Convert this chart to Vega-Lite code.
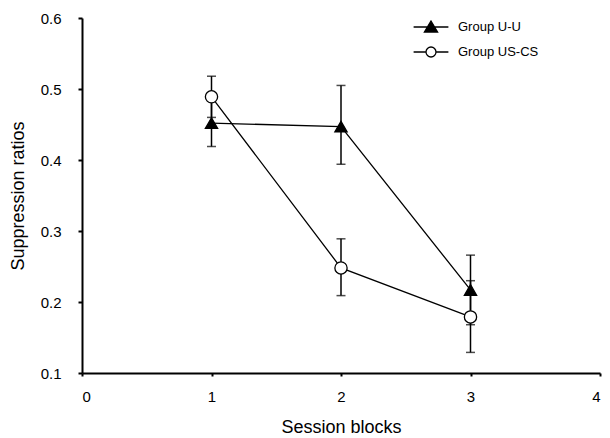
{
  "$schema": "https://vega.github.io/schema/vega-lite/v6.json",
  "width": 518,
  "height": 355,
  "autosize": {"type": "none"},
  "padding": {"left": 82, "top": 18, "right": 10, "bottom": 65},
  "background": "white",
  "config": {
    "view": {"stroke": null},
    "font": "Liberation Sans",
    "axis": {
      "grid": false,
      "domainColor": "black",
      "domainWidth": 2,
      "tickColor": "black",
      "tickWidth": 2,
      "tickSize": 4,
      "labelColor": "black",
      "labelFont": "Liberation Sans",
      "labelFontSize": 15,
      "titleFont": "Liberation Sans",
      "titleFontWeight": "normal",
      "titleColor": "black"
    }
  },
  "resolve": {"scale": {"shape": "independent", "fill": "independent"}, "legend": {"shape": "independent", "fill": "independent"}},
  "data": {
    "values": [
      {"block": 1, "group": "Group U-U", "mean": 0.452, "lo": 0.419, "hi": 0.485},
      {"block": 2, "group": "Group U-U", "mean": 0.447, "lo": 0.394, "hi": 0.505},
      {"block": 3, "group": "Group U-U", "mean": 0.217, "lo": 0.168, "hi": 0.266},
      {"block": 1, "group": "Group US-CS", "mean": 0.489, "lo": 0.460, "hi": 0.518},
      {"block": 2, "group": "Group US-CS", "mean": 0.248, "lo": 0.209, "hi": 0.289},
      {"block": 3, "group": "Group US-CS", "mean": 0.179, "lo": 0.129, "hi": 0.230}
    ]
  },
  "encoding": {
    "x": {
      "field": "block",
      "type": "quantitative",
      "scale": {"domain": [0, 4], "nice": false, "zero": false},
      "axis": {"values": [0, 1, 2, 3, 4], "format": "d", "title": "Session blocks", "labelPadding": 13, "titlePadding": 14, "titleFontSize": 18, "tickSize": 3}
    }
  },
  "layer": [
    {
      "mark": {"type": "point", "filled": true, "opacity": 0, "size": 144},
      "encoding": {
        "y": {"field": "mean", "type": "quantitative"},
        "fill": {
          "field": "group",
          "type": "nominal",
          "scale": {"domain": ["Group U-U", "Group US-CS"], "range": ["black", "white"]},
          "legend": {
            "title": null,
            "orient": "none",
            "legendX": 342,
            "legendY": 2,
            "padding": 0,
            "rowPadding": 9,
            "symbolSize": 144,
            "symbolOpacity": 1,
            "symbolStrokeColor": "black",
            "symbolStrokeWidth": 1.3,
            "labelOffset": 20,
            "labelFont": "Liberation Sans",
            "labelFontSize": 13,
            "labelColor": "black",
            "encode": {
              "symbols": {
                "update": {
                  "stroke": {"value": "black"},
                  "strokeWidth": {"value": 1.3},
                  "opacity": {"value": 1}
                }
              }
            }
          }
        },
        "shape": {
          "field": "group",
          "type": "nominal",
          "scale": {"domain": ["Group U-U", "Group US-CS"], "range": ["M-2.9,0H2.9M0,-1L1.1,0.85L-1.1,0.85Z", "M-2.9,0H-0.83M0.83,0H2.9M0.83,0A0.83,0.83 0 1,1 -0.83,0A0.83,0.83 0 1,1 0.83,0"]},
          "legend": {
            "title": null,
            "orient": "none",
            "legendX": 342,
            "legendY": 2,
            "padding": 0,
            "rowPadding": 9,
            "symbolSize": 144,
            "symbolOpacity": 1,
            "symbolStrokeColor": "black",
            "symbolStrokeWidth": 1.3,
            "labelOffset": 20,
            "labelFont": "Liberation Sans",
            "labelFontSize": 13,
            "labelColor": "black",
            "encode": {
              "symbols": {
                "update": {
                  "stroke": {"value": "black"},
                  "strokeWidth": {"value": 1.3},
                  "opacity": {"value": 1}
                }
              }
            }
          }
        }
      }
    },
    {
      "mark": {"type": "rule", "color": "black", "strokeWidth": 1.5},
      "encoding": {
        "y": {"field": "lo", "type": "quantitative"},
        "y2": {"field": "hi"}
      }
    },
    {
      "mark": {"type": "tick", "orient": "horizontal", "color": "black", "size": 9, "thickness": 1.5},
      "encoding": {"y": {"field": "lo", "type": "quantitative"}}
    },
    {
      "mark": {"type": "tick", "orient": "horizontal", "color": "black", "size": 9, "thickness": 1.5},
      "encoding": {"y": {"field": "hi", "type": "quantitative"}}
    },
    {
      "mark": {"type": "line", "color": "black", "strokeWidth": 1.3},
      "encoding": {
        "y": {"field": "mean", "type": "quantitative"},
        "detail": {"field": "group"}
      }
    },
    {
      "mark": {"type": "point", "filled": false, "stroke": "black", "strokeWidth": 1.3, "size": 150, "opacity": 1},
      "encoding": {
        "y": {
          "field": "mean",
          "type": "quantitative",
          "scale": {"domain": [0.1, 0.6], "nice": false, "zero": false},
          "axis": {"values": [0.1, 0.2, 0.3, 0.4, 0.5, 0.6], "format": ".1f", "title": "Suppression ratios", "labelPadding": 17, "titlePadding": 13, "titleFontSize": 18}
        },
        "fill": {
          "field": "group",
          "type": "nominal",
          "scale": {"domain": ["Group U-U", "Group US-CS"], "range": ["black", "white"]},
          "legend": null
        },
        "shape": {
          "field": "group",
          "type": "nominal",
          "scale": {"domain": ["Group U-U", "Group US-CS"], "range": ["triangle-up", "circle"]},
          "legend": null
        }
      }
    }
  ]
}
